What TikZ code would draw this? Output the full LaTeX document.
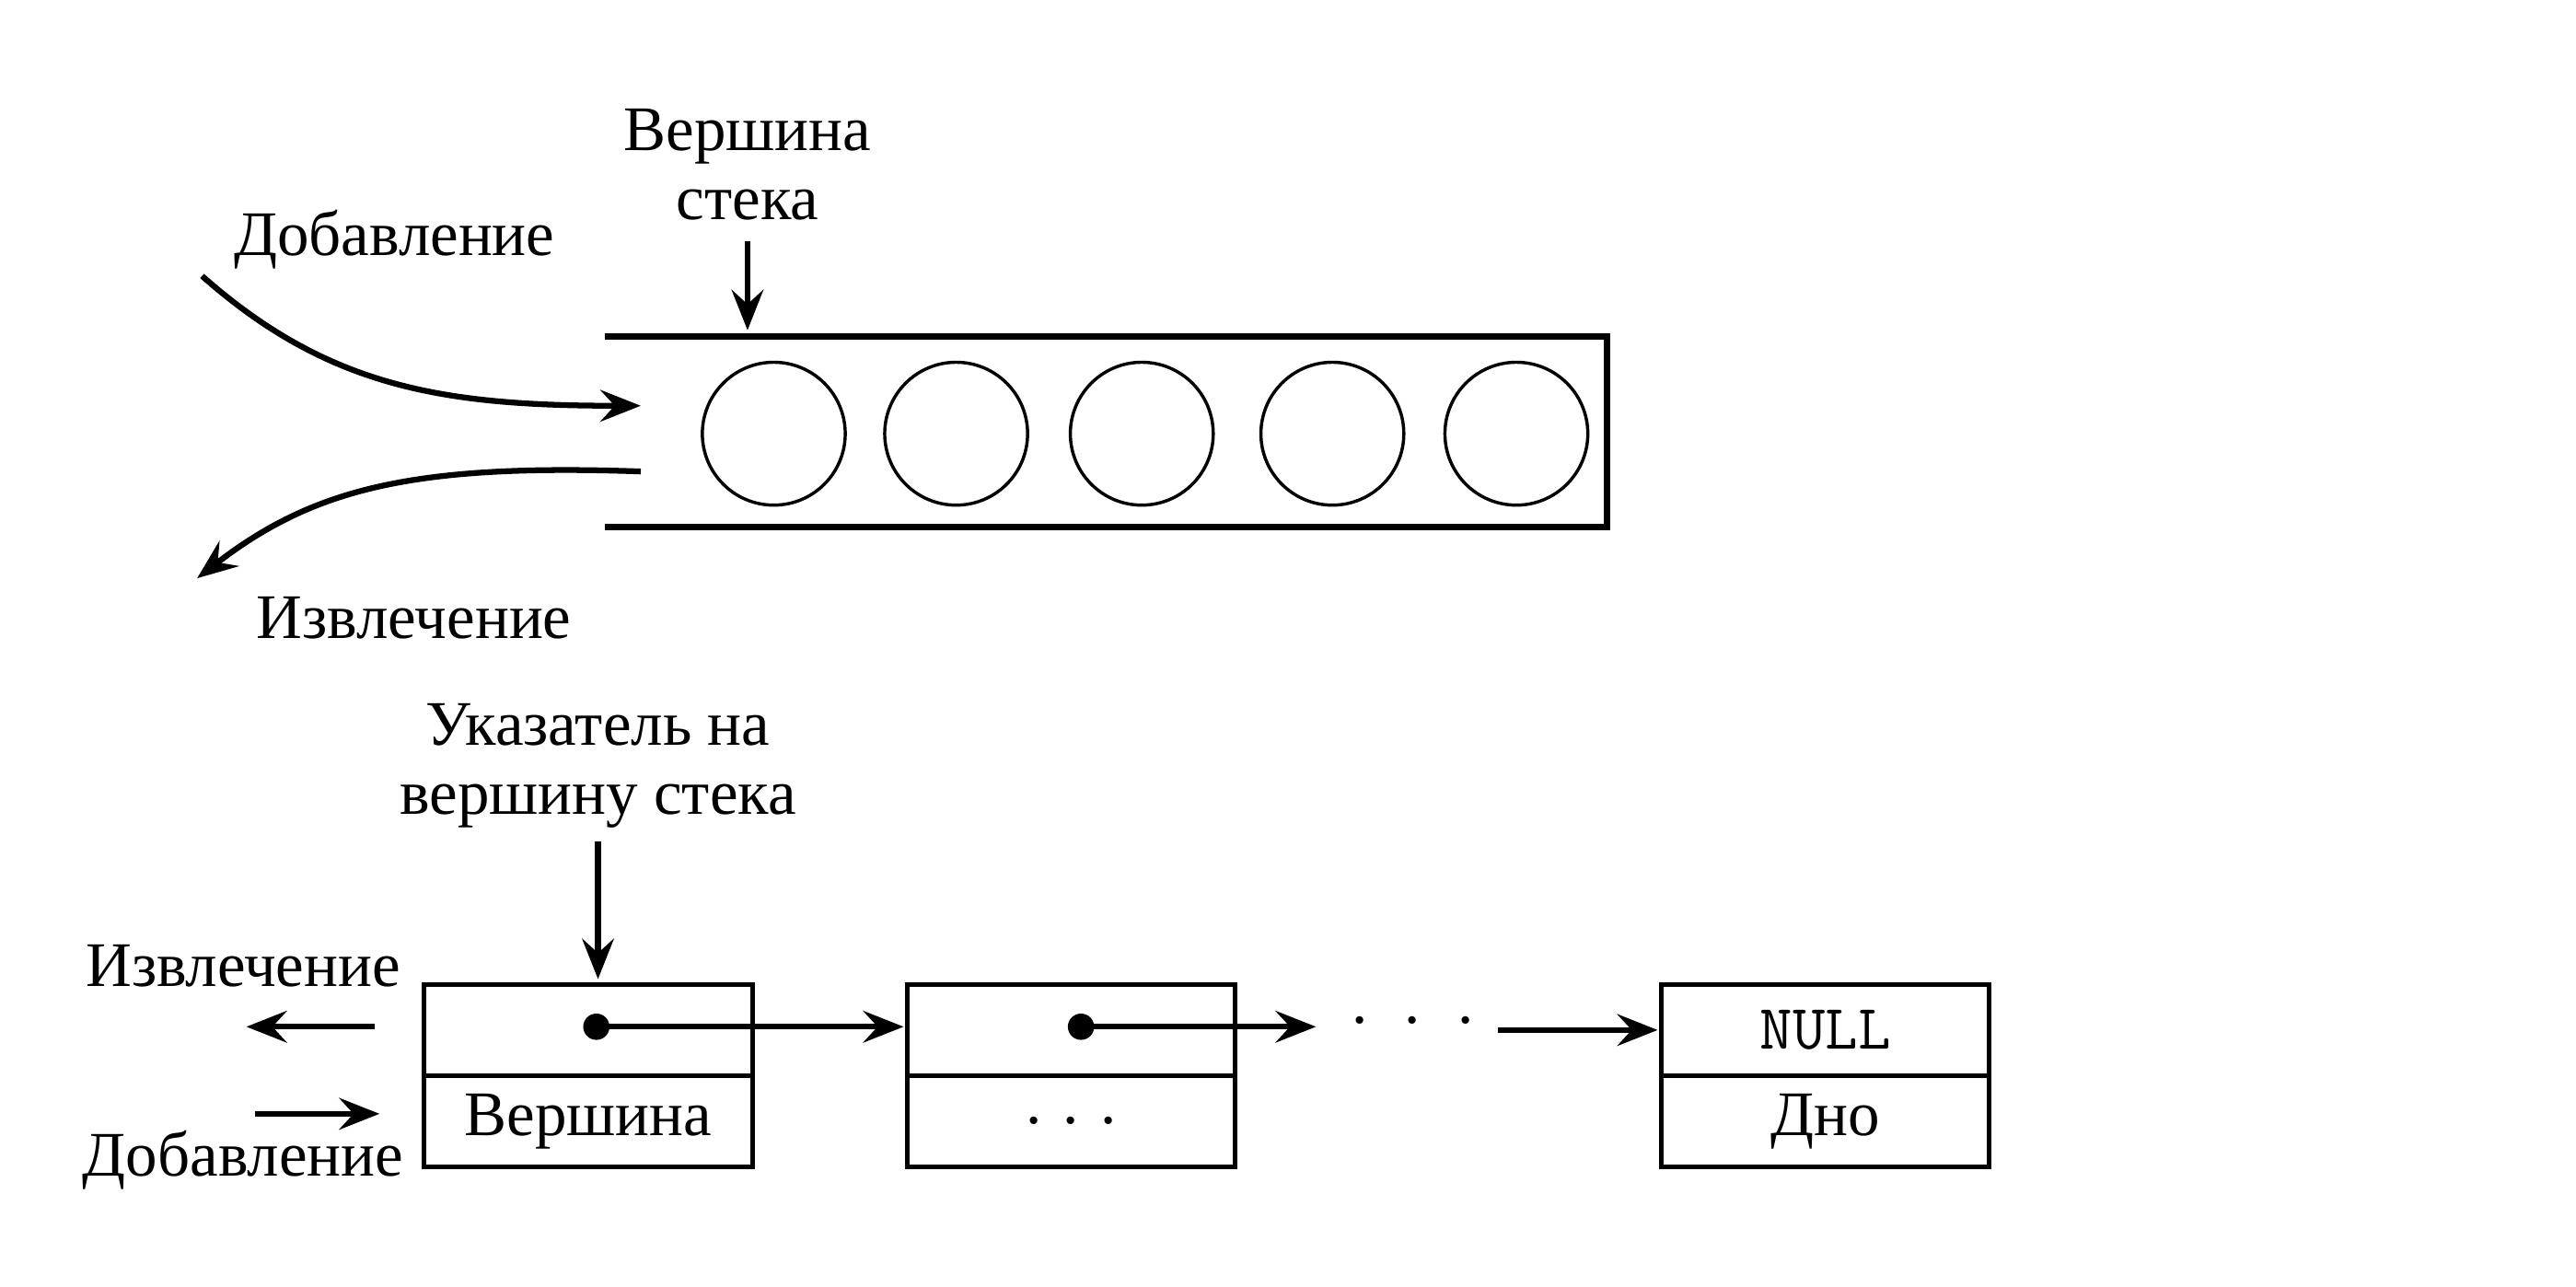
\documentclass[tikz,border=0pt]{standalone}
\usepackage{fontspec}
\setmainfont{Liberation Serif}
\usetikzlibrary{arrows.meta}
\begin{document}
\begin{tikzpicture}[x=0.02cm,y=-0.02cm,
  lbl/.style={font=\fontsize{22}{24}\selectfont, inner sep=0pt, align=center},
  arr/.style={line width=2pt, -{Stealth[length=14pt,width=11pt,inset=5pt]}},
  ball/.style={draw, circle, line width=1.1pt, minimum size=1.74cm, inner sep=0pt},
  cell/.style={draw, line width=1.6pt, minimum width=4cm, minimum height=1.11cm, inner sep=0pt, font=\fontsize{22}{24}\selectfont},
  pdot/.style={fill, circle, minimum size=0.32cm, inner sep=0pt}]
\useasboundingbox (0,0) rectangle (1568,783.4);
% ---------- top: stack as tube ----------
\draw[line width=2.2pt] (368,205) -- (978,205) -- (978,321) -- (368,321);
\foreach \i/\x in {1/471,2/582,3/695,4/811,5/923}
  \node[ball] (c\i) at (\x,264) {};
\node[lbl] (top) at (455,100) {Вершина\\стека};
\coordinate (tops) at (455,147);
\coordinate (topend) at (455,201);
\draw[arr] (tops) -- (topend);
\node[lbl] (add1) at (240,146) {Добавление};
\node[lbl] (rem1) at (252,376) {Извлечение};
\coordinate (a1s) at (123,168);
\coordinate (a1e) at (390,247);
\coordinate (r1s) at (390,287);
\coordinate (r1e) at (120,352);
\draw[arr] (a1s) .. controls (200,236) and (270,247) .. (a1e);
\draw[arr] (r1s) .. controls (250,282) and (190,298) .. (r1e);
% ---------- bottom: linked list ----------
\node[lbl] (ptr) at (364,466) {Указатель на\\вершину стека};
\node[cell] (b1t) at (358,627) {};
\node[cell] (b1b) at (358,682.5) {Вершина};
\node[cell] (b2t) at (652,627) {};
\node[cell] (b2b) at (652,682.5) {. . .};
\node[cell] (b3t) at (1111,627) {\ttfamily NULL};
\node[cell] (b3b) at (1111,682.5) {Дно};
\node[pdot] (d1) at (363,625) {};
\node[pdot] (d2) at (658,625) {};
\coordinate (p1) at (364,512);
\coordinate (p2) at (364,596);
\draw[arr] (p1) -- (p2);
\coordinate (e0) at (550,625);
\draw[arr] (d1.center) -- (e0);
\coordinate (e1) at (801,625);
\draw[arr] (d2.center) -- (e1);
\node[lbl] (dots) at (860,621) {. \ . \ .};
\coordinate (e2) at (912,627);
\coordinate (e3) at (1009,627);
\draw[arr] (e2) -- (e3);
\node[lbl] (rem2) at (148,588) {Извлечение};
\node[lbl] (add2) at (148,706) {Добавление};
\coordinate (r2s) at (228,625);
\coordinate (r2e) at (150,625);
\coordinate (a2s) at (155,678);
\coordinate (a2e) at (231,678);
\draw[arr] (r2s) -- (r2e);
\draw[arr] (a2s) -- (a2e);
\end{tikzpicture}
\end{document}
